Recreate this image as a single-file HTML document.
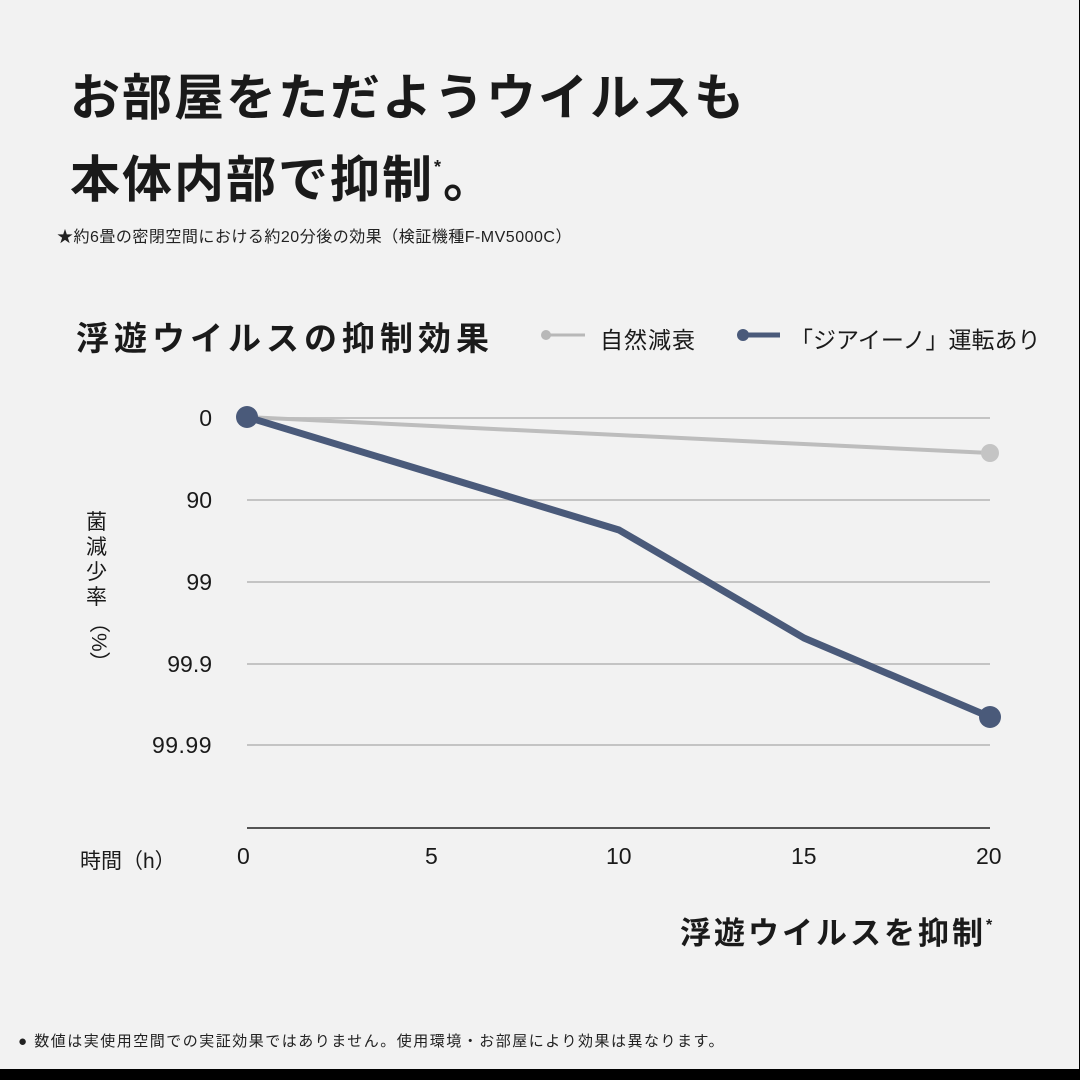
<!DOCTYPE html>
<html><head><meta charset="utf-8"><style>
html,body{margin:0;padding:0}
body{width:1080px;height:1080px;background:#000;position:relative;overflow:hidden;font-family:"Liberation Sans","Noto Sans CJK JP",sans-serif}
#bg{position:absolute;left:0;top:0;width:1079px;height:1069px;background:#f2f2f2}
.t{position:absolute;color:#1a1a1a;white-space:nowrap}
</style></head><body>
<div id="bg"></div>
<div class="t" style="left:70px;top:58px;font-size:50px;font-weight:bold;letter-spacing:2px">お部屋をただようウイルスも</div>
<div class="t" style="left:70px;top:140px;font-size:50px;font-weight:bold;letter-spacing:2px">本体内部で抑制<span style="font-size:18px;vertical-align:24px">*</span>。</div>
<div class="t" style="left:57px;top:223px;font-size:16px;color:#222;letter-spacing:0.5px">★約6畳の密閉空間における約20分後の効果（検証機種F-MV5000C）</div>
<div class="t" style="left:76px;top:312px;font-size:33px;font-weight:bold;letter-spacing:5px">浮遊ウイルスの抑制効果</div>
<svg style="position:absolute;left:0;top:0" width="1080" height="1080">
<line x1="545" y1="335" x2="585" y2="335" stroke="#b8b8b8" stroke-width="3"/>
<circle cx="546" cy="335" r="5" fill="#b8b8b8"/>
<line x1="740" y1="335" x2="780" y2="335" stroke="#4a5a7a" stroke-width="5"/>
<circle cx="743" cy="335" r="6" fill="#4a5a7a"/>
<g stroke="#c4c4c4" stroke-width="2">
<line x1="247" y1="418" x2="990" y2="418"/><line x1="247" y1="500" x2="990" y2="500"/>
<line x1="247" y1="582" x2="990" y2="582"/><line x1="247" y1="664" x2="990" y2="664"/>
<line x1="247" y1="745" x2="990" y2="745"/></g>
<line x1="247" y1="828" x2="990" y2="828" stroke="#555" stroke-width="2"/>
<line x1="247" y1="417" x2="990" y2="453" stroke="#bdbdbd" stroke-width="4"/>
<circle cx="990" cy="453" r="9" fill="#c4c4c4"/>
<polyline points="247,417 619,530 804,638 990,717" fill="none" stroke="#4a5a7a" stroke-width="7" stroke-linejoin="round"/>
<circle cx="247" cy="417" r="11" fill="#4a5a7a"/>
<circle cx="990" cy="717" r="11" fill="#4a5a7a"/>
</svg>
<div class="t" style="left:600px;top:321px;font-size:23px;letter-spacing:1px">自然減衰</div>
<div class="t" style="left:790px;top:321px;font-size:23px">「ジアイーノ」運転あり</div>
<div class="t" style="left:160px;top:405px;width:52px;text-align:right;font-size:23px">0</div>
<div class="t" style="left:160px;top:487px;width:52px;text-align:right;font-size:23px">90</div>
<div class="t" style="left:160px;top:569px;width:52px;text-align:right;font-size:23px">99</div>
<div class="t" style="left:140px;top:651px;width:72px;text-align:right;font-size:23px">99.9</div>
<div class="t" style="left:110px;top:732px;width:102px;text-align:right;font-size:23px;letter-spacing:0.5px">99.99</div>
<div class="t" style="left:86px;top:510px;font-size:21px;line-height:25px;width:24px;white-space:normal">菌減少率</div>
<div class="t" style="left:86px;top:612px;font-size:21px;line-height:25px;writing-mode:vertical-rl">（%）</div>
<div class="t" style="left:80px;top:845px;font-size:21px">時間（h）</div>
<div class="t" style="left:237px;top:843px;font-size:23px">0</div>
<div class="t" style="left:425px;top:843px;font-size:23px">5</div>
<div class="t" style="left:606px;top:843px;font-size:23px">10</div>
<div class="t" style="left:791px;top:843px;font-size:23px">15</div>
<div class="t" style="left:976px;top:843px;font-size:23px">20</div>
<div class="t" style="left:680px;top:908px;font-size:31px;font-weight:bold;letter-spacing:3px">浮遊ウイルスを抑制<span style="font-size:16px;vertical-align:14px">*</span></div>
<div class="t" style="left:18px;top:1030px;font-size:15px;color:#222;letter-spacing:1.5px">● 数値は実使用空間での実証効果ではありません。使用環境・お部屋により効果は異なります。</div>
</body></html>
